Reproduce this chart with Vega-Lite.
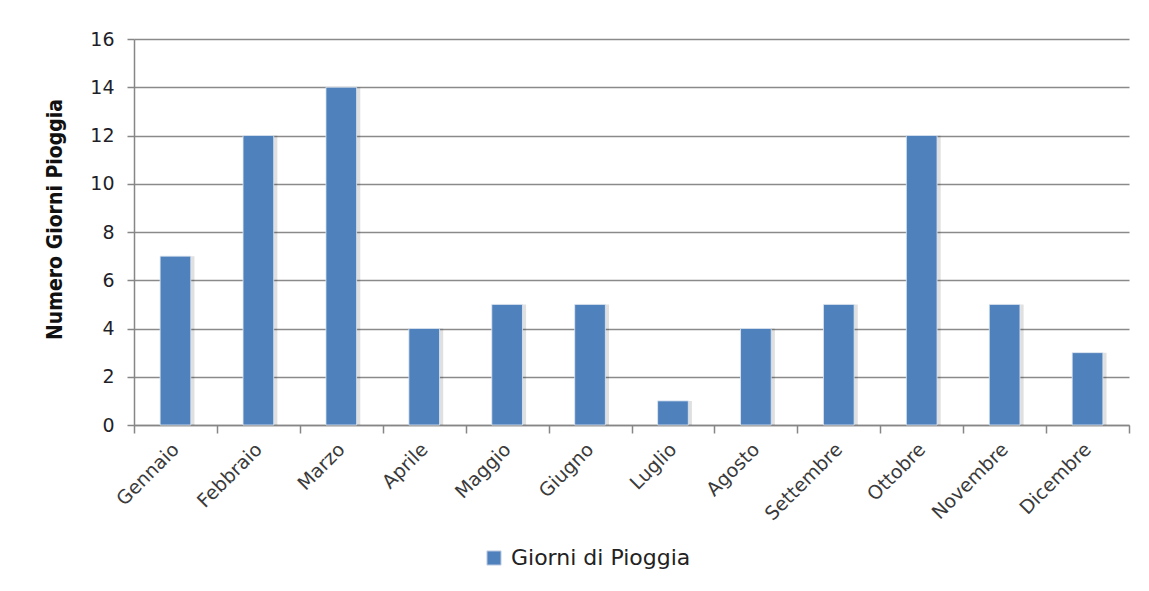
{
  "$schema": "https://vega.github.io/schema/vega-lite/v6.json",
  "width": 995,
  "height": 386,
  "autosize": {"type": "none"},
  "padding": {"left": 134, "top": 39, "right": 20, "bottom": 166},
  "background": "#ffffff",
  "config": {
    "view": {"stroke": null},
    "font": "DejaVu Sans"
  },
  "data": {
    "values": [
      {"mese": "Gennaio", "giorni": 7, "serie": "Giorni di Pioggia"},
      {"mese": "Febbraio", "giorni": 12, "serie": "Giorni di Pioggia"},
      {"mese": "Marzo", "giorni": 14, "serie": "Giorni di Pioggia"},
      {"mese": "Aprile", "giorni": 4, "serie": "Giorni di Pioggia"},
      {"mese": "Maggio", "giorni": 5, "serie": "Giorni di Pioggia"},
      {"mese": "Giugno", "giorni": 5, "serie": "Giorni di Pioggia"},
      {"mese": "Luglio", "giorni": 1, "serie": "Giorni di Pioggia"},
      {"mese": "Agosto", "giorni": 4, "serie": "Giorni di Pioggia"},
      {"mese": "Settembre", "giorni": 5, "serie": "Giorni di Pioggia"},
      {"mese": "Ottobre", "giorni": 12, "serie": "Giorni di Pioggia"},
      {"mese": "Novembre", "giorni": 5, "serie": "Giorni di Pioggia"},
      {"mese": "Dicembre", "giorni": 3, "serie": "Giorni di Pioggia"}
    ]
  },
  "encoding": {
    "x": {
      "field": "mese",
      "type": "nominal",
      "sort": null,
      "scale": {"paddingInner": 0, "paddingOuter": 0},
      "axis": {
        "title": null,
        "tickBand": "extent",
        "domainColor": "#868686",
        "domainWidth": 1.5,
        "tickColor": "#868686",
        "tickWidth": 1.5,
        "tickSize": 8,
        "labelAngle": -45,
        "labelAlign": "right",
        "labelBaseline": "middle",
        "labelPadding": 13,
        "labelFont": "DejaVu Sans",
        "labelFontSize": 19,
        "labelColor": "#3a3a3a",
        "labelLimit": 0
      }
    },
    "y": {
      "field": "giorni",
      "type": "quantitative",
      "scale": {"domain": [0, 16], "nice": false},
      "axis": {
        "title": "Numero Giorni Pioggia",
        "titleFont": "DejaVu Sans Condensed, DejaVu Sans",
        "titleFontWeight": "bold",
        "titleFontSize": 21,
        "titleColor": "#111111",
        "titleX": -79,
        "titleY": 180,
        "titleAlign": "center",
        "titleBaseline": "middle",
        "values": [0, 2, 4, 6, 8, 10, 12, 14, 16],
        "grid": true,
        "gridColor": "#8a8a8a",
        "gridWidth": 1.5,
        "domainColor": "#868686",
        "domainWidth": 1.5,
        "tickColor": "#868686",
        "tickWidth": 1.5,
        "tickSize": 7,
        "labelPadding": 13,
        "labelFont": "DejaVu Sans",
        "labelFontSize": 19,
        "labelColor": "#1f1f2a"
      }
    }
  },
  "layer": [
    {
      "mark": {
        "type": "bar",
        "width": {"band": 0.41},
        "xOffset": 2,
        "color": "#000000",
        "opacity": 0.12
      }
    },
    {
      "mark": {
        "type": "bar",
        "width": {"band": 0.37},
        "stroke": "#dfe8f3",
        "strokeWidth": 0.8
      },
      "encoding": {
        "color": {
          "field": "serie",
          "type": "nominal",
          "scale": {"range": ["#4f81bd"]},
          "legend": {
            "title": null,
            "orient": "none",
            "legendX": 349,
            "legendY": 508,
            "symbolType": "square",
            "symbolSize": 200,
            "symbolStrokeColor": "#c8d4e6",
            "symbolStrokeWidth": 1,
            "labelFont": "DejaVu Sans",
            "labelFontSize": 22,
            "labelColor": "#222222",
            "labelOffset": 6,
            "labelLimit": 0
          }
        }
      }
    }
  ]
}
